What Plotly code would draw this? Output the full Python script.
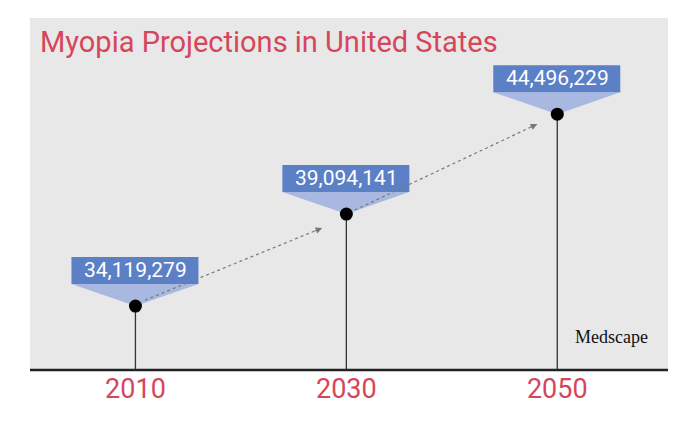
import plotly.graph_objects as go

years = [2010, 2030, 2050]
values = [34119279, 39094141, 44496229]
labels = ["34,119,279", "39,094,141", "44,496,229"]
arrows = [((2010.9, 34.44e6), (2027.7, 38.34e6)), ((2030.8, 39.31e6), (2048.1, 43.96e6))]
YMIN, YMAX = 30.66e6, 49.7e6
red = "#d6465a"

fig = go.Figure()
shapes = []
annotations = []
for x, v, t in zip(years, values, labels):
    shapes.append(dict(type="line", x0=x, x1=x, y0=YMIN, y1=v, line=dict(color="#333", width=1.3), layer="below"))
    shapes.append(dict(type="path", xsizemode="pixel", ysizemode="pixel", xanchor=x, yanchor=v, layer="below",
                       path="M -64,22 L 63,22 L 0,0 Z", fillcolor="#a8b8e0", line=dict(width=0)))
    shapes.append(dict(type="rect", xsizemode="pixel", ysizemode="pixel", xanchor=x, yanchor=v, layer="below",
                       x0=-64, x1=63, y0=22, y1=49, fillcolor="#5b80c6", line=dict(width=0)))
    annotations.append(dict(x=x, y=v, yshift=36, text=t, showarrow=False,
                            font=dict(family="Roboto", size=21, color="white")))
for (x0, y0), (x1, y1) in arrows:
    shapes.append(dict(type="line", x0=x0, y0=y0, x1=x1, y1=y1, layer="below",
                       line=dict(color="#777", width=1.2, dash="dot")))
    annotations.append(dict(x=x1, y=y1, ax=x1 - (x1 - x0) * 0.05, ay=y1 - (y1 - y0) * 0.05,
                            axref="x", ayref="y", text="", showarrow=True,
                            arrowhead=2, arrowsize=1.3, arrowwidth=1, arrowcolor="#777", standoff=0))
shapes.append(dict(type="line", xref="paper", yref="paper", x0=0, x1=1, y0=0, y1=0, line=dict(color="#222", width=2.5)))

fig.add_trace(go.Scatter(x=years, y=values, mode="markers", marker=dict(color="black", size=13), hoverinfo="skip"))

annotations.append(dict(xref="paper", yref="paper", x=0.012, y=0.985, xanchor="left", yanchor="top",
                        text="Myopia Projections in United States", showarrow=False,
                        font=dict(family="Roboto", size=29, color=red)))
annotations.append(dict(xref="paper", yref="paper", x=0.972, y=0.095, xanchor="right", yanchor="middle",
                        text="Medscape", showarrow=False,
                        font=dict(family="Liberation Serif", size=18, color="#111")))

fig.update_layout(
    width=690, height=424, margin=dict(l=22, r=30, t=10, b=62),
    paper_bgcolor="white", plot_bgcolor="#e8e8e9", showlegend=False,
    shapes=shapes, annotations=annotations,
    xaxis=dict(range=[2000, 2060.5], tickvals=years, ticktext=[str(y) for y in years],
               showgrid=False, zeroline=False, ticks="", tickfont=dict(family="Roboto", size=27, color=red)),
    yaxis=dict(range=[YMIN, YMAX], showgrid=False, zeroline=False, showticklabels=False),
)
fig.write_html("out.html")
